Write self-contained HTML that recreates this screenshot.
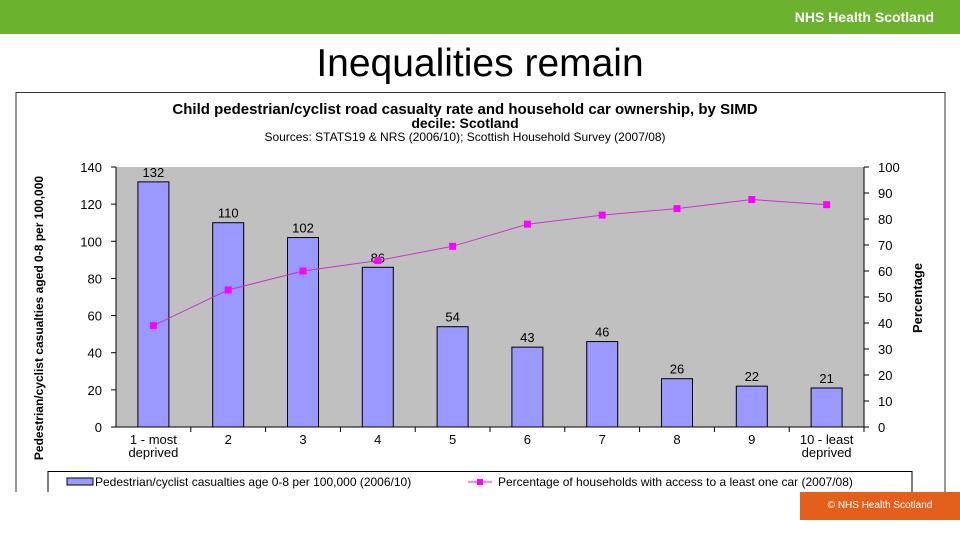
<!DOCTYPE html>
<html><head><meta charset="utf-8"><style>
body{margin:0;width:960px;height:540px;overflow:hidden;background:#fff;font-family:"Liberation Sans",sans-serif;position:relative}
</style></head><body>
<div style="position:absolute;left:0;top:0;width:960px;height:34px;background:#6bb22f"></div>
<div style="position:absolute;right:26px;top:9px;color:#fff;font-weight:bold;font-size:14px">NHS Health Scotland</div>
<div style="position:absolute;left:0;width:960px;top:42px;text-align:center;font-size:39px;color:#000">Inequalities remain</div>
<svg id="chart" width="960" height="540" style="position:absolute;left:0;top:0" font-family="Liberation Sans, sans-serif">
<path d="M16,492 V92.5 H945 V492" fill="none" stroke="#333" stroke-width="1"/>
<text x="465" y="114" text-anchor="middle" font-size="15" font-weight="bold">Child pedestrian/cyclist road casualty rate and household car ownership, by SIMD</text>
<text x="465" y="128" text-anchor="middle" font-size="14" font-weight="bold">decile: Scotland</text>
<text x="465" y="141" text-anchor="middle" font-size="12">Sources: STATS19 &amp; NRS (2006/10); Scottish Household Survey (2007/08)</text>
<rect x="116" y="167" width="748" height="260" fill="#c0c0c0"/>
<g id="g"></g>
<text transform="translate(43,318) rotate(-90)" text-anchor="middle" font-size="12" font-weight="bold">Pedestrian/cyclist casualties aged 0-8 per 100,000</text>
<text transform="translate(922,298) rotate(-90)" text-anchor="middle" font-size="13" font-weight="bold">Percentage</text>
<path d="M48,492 V471.5 H912 V492" fill="#fff" stroke="#000"/>
<rect x="67" y="478" width="26" height="7" fill="#9999ff" stroke="#000"/>
<text x="95" y="486" font-size="12">Pedestrian/cyclist casualties age 0-8 per 100,000 (2006/10)</text>
<line x1="468" y1="482" x2="492" y2="482" stroke="#ff00ff"/>
<rect x="477" y="479" width="6" height="6" fill="#ff00ff"/>
<text x="498" y="486" font-size="12">Percentage of households with access to a least one car (2007/08)</text>
<rect x="0" y="493" width="960" height="47" fill="#fff"/>
</svg>
<div style="position:absolute;left:800px;top:492px;width:160px;height:28px;background:#e35f1c;color:#fff;font-size:10px;line-height:28px;text-align:center">© NHS Health Scotland</div>
<script>
const categories=["1 - most|deprived","2","3","4","5","6","7","8","9","10 - least|deprived"];
const casualties=[132,110,102,86,54,43,46,26,22,21];
const carPct=[39,52.7,60,64,69.5,78,81.5,84,87.5,85.5];
const leftTicks=[0,20,40,60,80,100,120,140];
const rightTicks=[0,10,20,30,40,50,60,70,80,90,100];
const NS="http://www.w3.org/2000/svg",g=document.getElementById('g');
const X0=116,W=748,Y0=427,H=260,cw=W/categories.length;
const yL=v=>Y0-v/140*H, yR=v=>Y0-v/100*H, xc=i=>X0+cw*(i+0.5);
function mk(t,a,txt){const e=document.createElementNS(NS,t);for(const k in a)e.setAttribute(k,a[k]);if(txt!=null)e.textContent=txt;g.appendChild(e);return e;}
leftTicks.forEach(v=>{
 const t=mk('text',{x:102,y:yL(v)+5,'text-anchor':'end','font-size':13},v);
 
 
 mk('line',{x1:111,x2:116,y1:yL(v),y2:yL(v),stroke:'#000'});
});
rightTicks.forEach(v=>{
 const t=mk('text',{x:878,y:yR(v)+5,'font-size':13},v);
 
 
 mk('line',{x1:864,x2:869,y1:yR(v),y2:yR(v),stroke:'#000'});
});
mk('line',{x1:116,x2:116,y1:167,y2:427,stroke:'#000'});
mk('line',{x1:864,x2:864,y1:167,y2:427,stroke:'#000'});
mk('line',{x1:116,x2:864,y1:427,y2:427,stroke:'#000'});
categories.forEach((c,i)=>{
 mk('line',{x1:X0+cw*(i+1),x2:X0+cw*(i+1),y1:427,y2:432,stroke:'#000'});
 const p=c.split('|');
 p.forEach((s,j)=>{const t=mk('text',{x:xc(i),y:444+j*13,'text-anchor':'middle','font-size':13},s);
 
 });
 const b=mk('rect',{x:xc(i)-15.5,y:yL(casualties[i]),width:31,height:Y0-yL(casualties[i]),fill:'#9999ff',stroke:'#000'});
 
 
 const l=mk('text',{x:xc(i),y:yL(casualties[i])-5,'text-anchor':'middle','font-size':13},casualties[i]);
 
 
});
const ln=mk('polyline',{points:carPct.map((v,i)=>xc(i)+','+yR(v)).join(' '),fill:'none',stroke:'#cc33cc','stroke-width':1});


carPct.forEach((v,i)=>{const m=mk('rect',{x:xc(i)-3.5,y:yR(v)-3.5,width:7,height:7,fill:'#ff00ff'});
 
 });
</script>
</body></html>
